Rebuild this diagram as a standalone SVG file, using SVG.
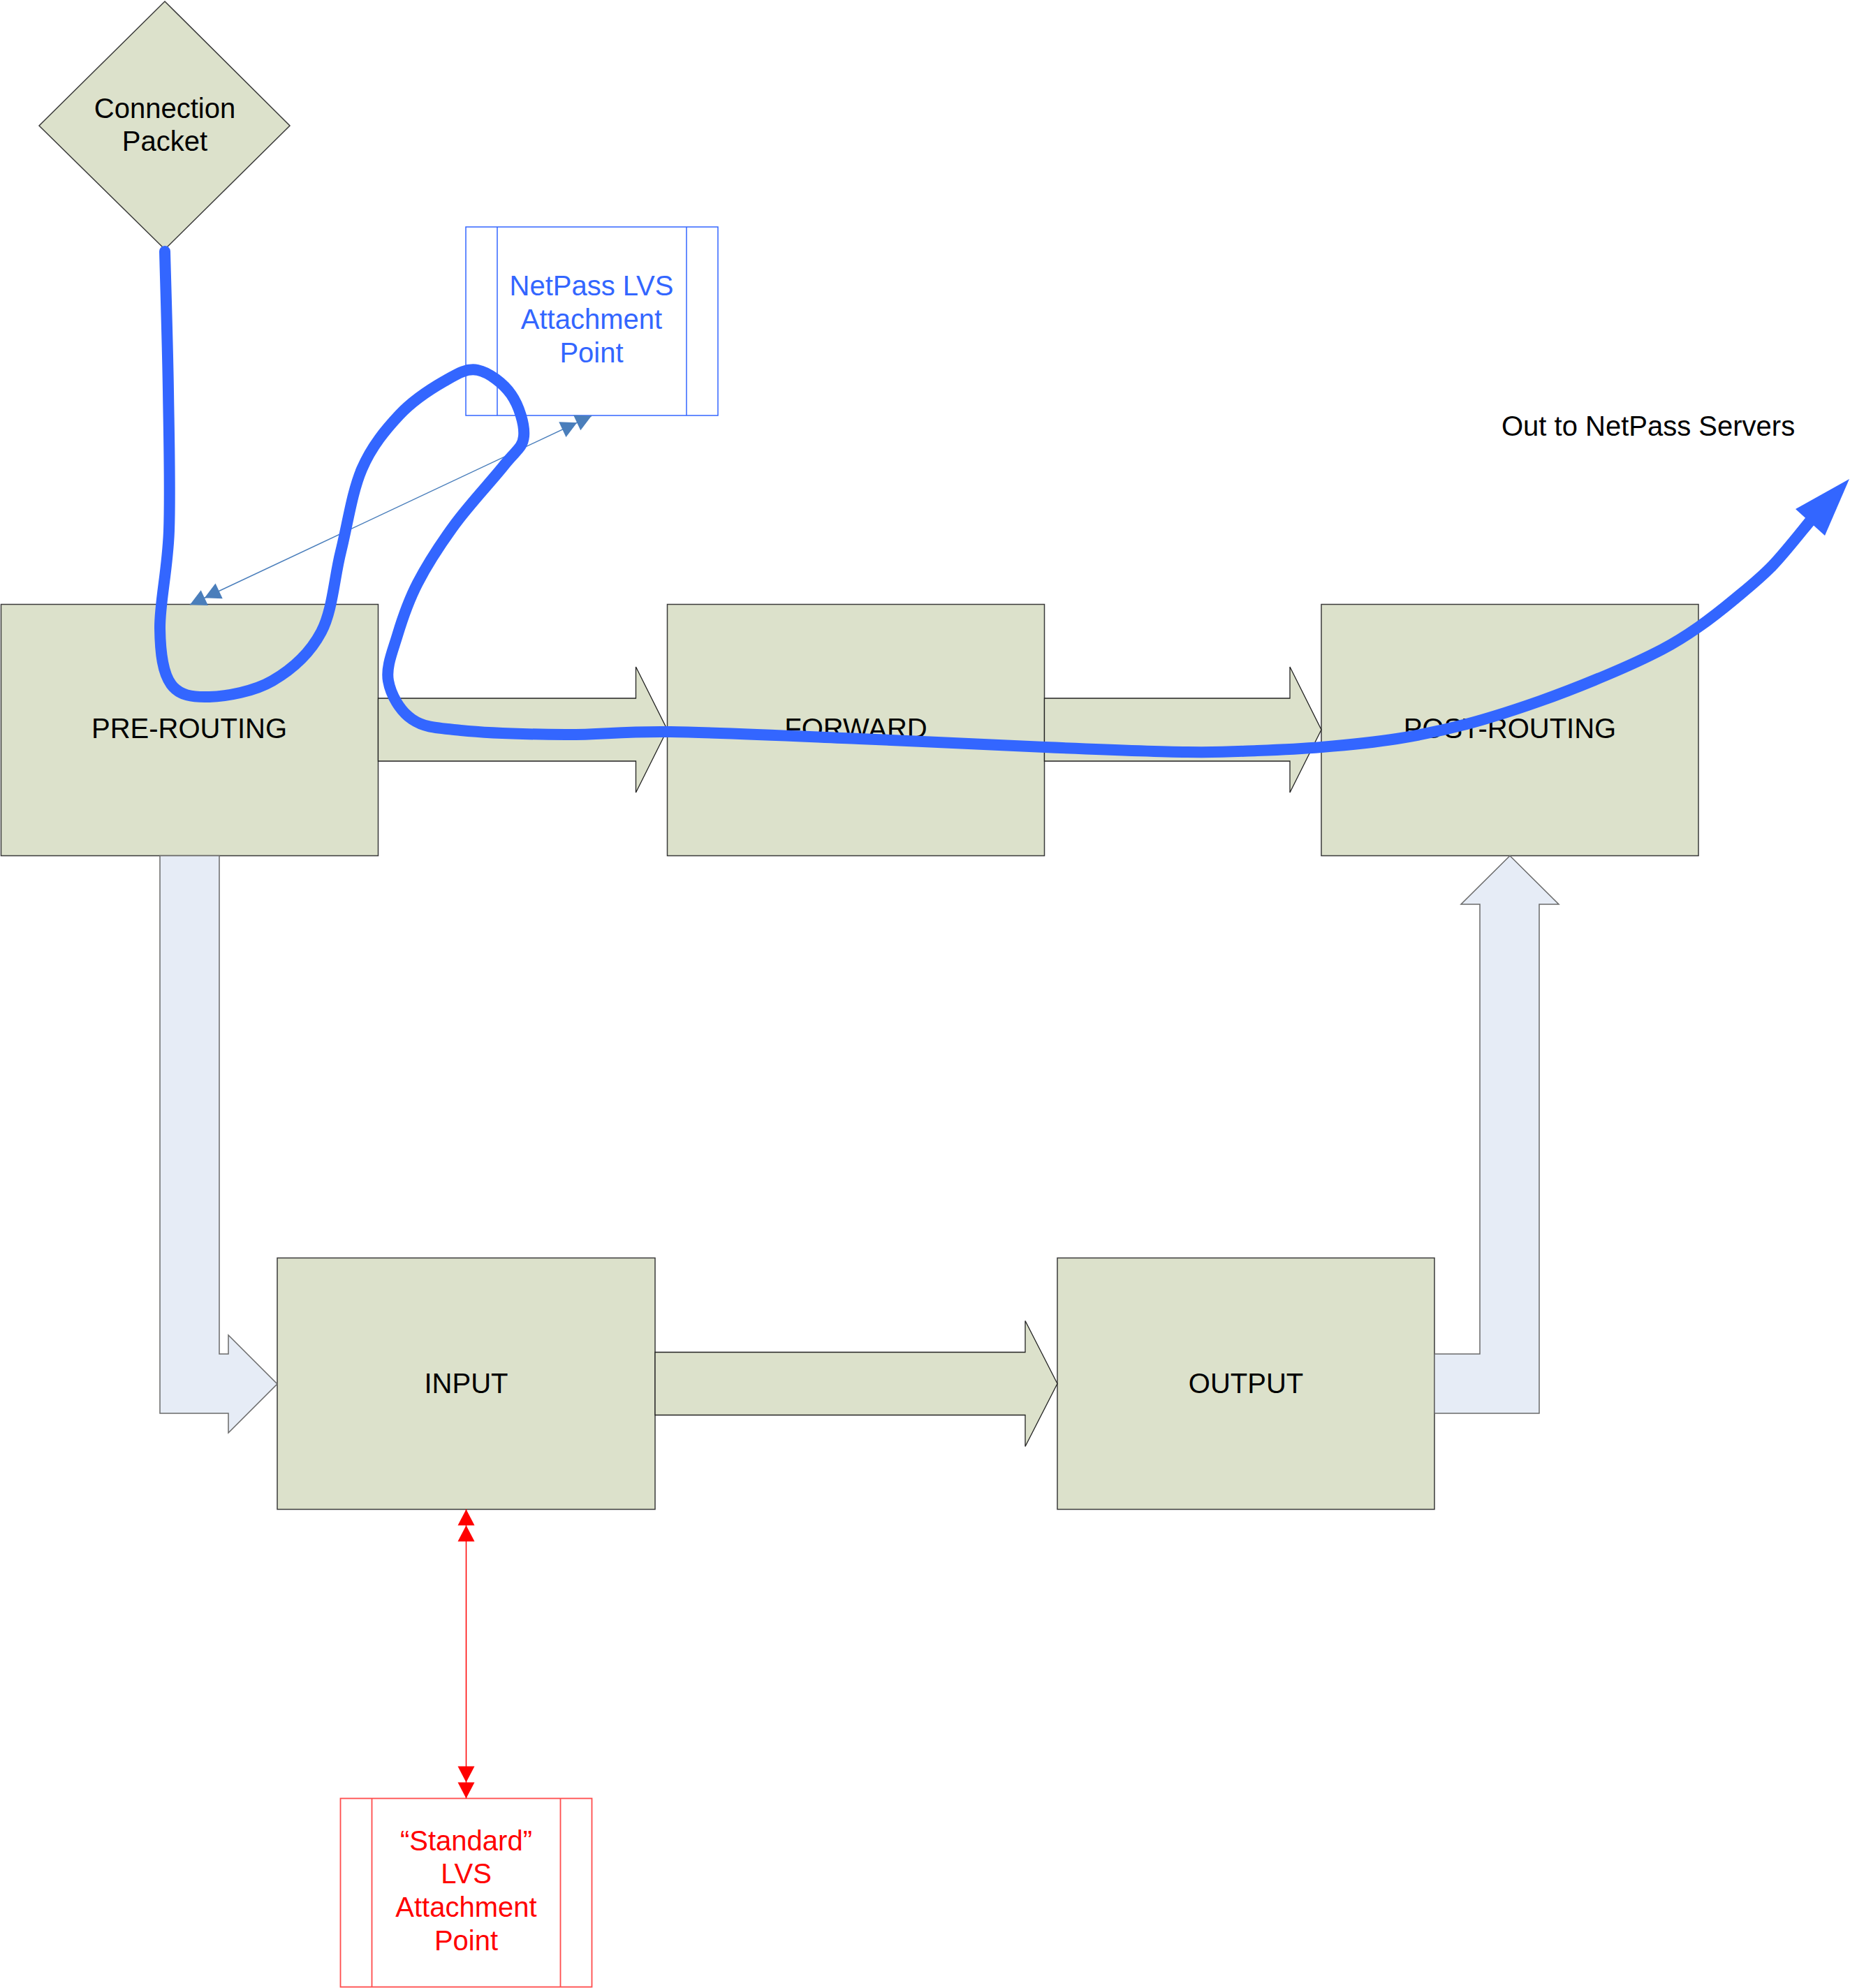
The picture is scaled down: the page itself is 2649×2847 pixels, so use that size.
<svg xmlns="http://www.w3.org/2000/svg" width="2649" height="2847" viewBox="0 0 2649 2847">
<style>
.box{fill:#dce1cb;stroke:#3a3a3a;stroke-width:1.5}
.garrow{fill:#dce1cb;stroke:#222;stroke-width:1.3}
.barrow{fill:#e6ecf6;stroke:#6a6a6a;stroke-width:1.5}
.lbl{font-family:"Liberation Sans",Arial,sans-serif;font-size:40px;text-anchor:middle;fill:#000}
.blue{fill:#3366ff}
.red{fill:#ff0000}
.bluebox{fill:#ffffff;stroke:#3366ff;stroke-width:1.5}
.redbox{fill:#ffffff;stroke:#ff4d4d;stroke-width:1.8}
</style>
<defs>
<marker id="dblBlue" markerUnits="userSpaceOnUse" viewBox="-48 -14 50 28" markerWidth="50" markerHeight="28" refX="0" refY="0" orient="auto-start-reverse">
<path d="M0,0 L-23,-12 L-23,12 Z M-23,0 L-46,-12 L-46,12 Z" fill="#4a7ebb"/>
</marker>
<marker id="dblRed" markerUnits="userSpaceOnUse" viewBox="-48 -14 50 28" markerWidth="50" markerHeight="28" refX="0" refY="0" orient="auto-start-reverse">
<path d="M0,0 L-23,-12 L-23,12 Z M-23,0 L-46,-12 L-46,12 Z" fill="#ff0000"/>
</marker>
</defs>
<rect x="0" y="0" width="2649" height="2847" fill="#ffffff"/>

<g id="nodes">
<g id="connection-packet">
<polygon class="box" points="236,2 415,180 236,357 56,180"/>
<text class="lbl" x="236" y="169">Connection</text>
<text class="lbl" x="236" y="216">Packet</text>
</g>
<g id="netpass-lvs">
<rect class="bluebox" x="667" y="325" width="361" height="270"/>
<line x1="712" y1="325" x2="712" y2="595" stroke="#3366ff" stroke-width="1.5"/>
<line x1="983" y1="325" x2="983" y2="595" stroke="#3366ff" stroke-width="1.5"/>
<text class="lbl blue" x="847" y="423">NetPass LVS</text>
<text class="lbl blue" x="847" y="471">Attachment</text>
<text class="lbl blue" x="847" y="519">Point</text>
</g>
<g id="pre-routing">
<rect class="box" x="1.5" y="865.5" width="540" height="360"/>
<text class="lbl" x="271" y="1057">PRE-ROUTING</text>
</g>
<g id="forward">
<rect class="box" x="955.5" y="865.5" width="540" height="360"/>
<text class="lbl" x="1225.5" y="1057">FORWARD</text>
</g>
<g id="post-routing">
<rect class="box" x="1892" y="865.5" width="540" height="360"/>
<text class="lbl" x="2162" y="1057">POST-ROUTING</text>
</g>
<g id="input">
<rect class="box" x="397" y="1801.5" width="541" height="360"/>
<text class="lbl" x="667.5" y="1995">INPUT</text>
</g>
<g id="output">
<rect class="box" x="1514" y="1801.5" width="540" height="360"/>
<text class="lbl" x="1784" y="1995">OUTPUT</text>
</g>
<g id="standard-lvs">
<rect class="redbox" x="487.5" y="2575.5" width="360" height="270"/>
<line x1="532.5" y1="2575.5" x2="532.5" y2="2845.5" stroke="#ff4d4d" stroke-width="1.8"/>
<line x1="802.5" y1="2575.5" x2="802.5" y2="2845.5" stroke="#ff4d4d" stroke-width="1.8"/>
<text class="lbl red" x="667.5" y="2650">“Standard”</text>
<text class="lbl red" x="667.5" y="2697">LVS</text>
<text class="lbl red" x="667.5" y="2745">Attachment</text>
<text class="lbl red" x="667.5" y="2793">Point</text>
</g>
<g id="out-label">
<text class="lbl" x="2150" y="624" style="text-anchor:start">Out to NetPass Servers</text>
</g>
</g>

<g id="connectors">
<polygon class="garrow" points="541.5,1000 910.5,1000 910.5,955 955.5,1045 910.5,1135 910.5,1090 541.5,1090"/>
<polygon class="garrow" points="1495.5,1000 1847,1000 1847,955 1892,1045 1847,1135 1847,1090 1495.5,1090"/>
<polygon class="garrow" points="938,1936.5 1468,1936.5 1468,1891.5 1514,1981.5 1468,2071.5 1468,2026.5 938,2026.5"/>
<polygon class="barrow" points="229,1225.5 314,1225.5 314,1939 327,1939 327,1912 397,1982 327,2052 327,2024 229,2024"/>
<polygon class="barrow" points="2054,1939 2119,1939 2119,1295 2092,1295 2162,1225.5 2232,1295 2204,1295 2204,2024 2054,2024"/>
<line x1="272" y1="866" x2="847" y2="595.5" stroke="#4a7ebb" stroke-width="1.5" marker-start="url(#dblBlue)" marker-end="url(#dblBlue)"/>
<line x1="667.5" y1="2161.5" x2="667.5" y2="2575.5" stroke="#ff0000" stroke-width="1.5" marker-start="url(#dblRed)" marker-end="url(#dblRed)"/>
<path d="M236,360 C236.8,393.3 240,493.3 241,560 C242,626.7 244,703.3 242,760 C240,816.7 228.5,863.3 229,900 C229.5,936.7 233.2,963.7 245,980 C256.8,996.3 275.8,998.8 300,998 C324.2,997.2 363.3,990.5 390,975 C416.7,959.5 443.7,935.8 460,905 C476.3,874.2 478.3,828.8 488,790 C497.7,751.2 504,704.7 518,672 C532,639.3 552.3,615 572,594 C591.7,573 617.3,556.7 636,546 C654.7,535.3 668,526.8 684,530 C700,533.2 721,549.2 732,565 C743,580.8 751.7,608.2 750,625 C748.3,641.8 738.3,645.2 722,666 C705.7,686.8 672.7,721.8 652,750 C631.3,778.2 611.8,808.3 598,835 C584.2,861.7 576,886.7 569,910 C562,933.3 552.5,955 556,975 C559.5,995 572.7,1018.2 590,1030 C607.3,1041.8 623.3,1042.3 660,1046 C696.7,1049.7 760,1051.7 810,1052 C860,1052.3 890,1047 960,1048 C1030,1049 1140.7,1054.3 1230,1058 C1319.3,1061.7 1417.7,1066.8 1496,1070 C1574.3,1073.2 1649.3,1076.2 1700,1077 C1750.7,1077.8 1768,1076.2 1800,1075 C1832,1073.8 1858.7,1072.8 1892,1070 C1925.3,1067.2 1965.3,1063.5 2000,1058 C2034.7,1052.5 2065.8,1046 2100,1037 C2134.2,1028 2171.7,1015.7 2205,1004 C2238.3,992.3 2270.8,979.3 2300,967 C2329.2,954.7 2358,941.5 2380,930 C2402,918.5 2414.5,910.2 2432,898 C2449.5,885.8 2467.3,871.7 2485,857 C2502.7,842.3 2520.2,828.5 2538,810 C2555.8,791.5 2583,756.7 2592,746" fill="none" stroke="#3366ff" stroke-width="16" stroke-linecap="round" stroke-linejoin="round"/>
<polygon points="2648,686 2571,729 2613,767" fill="#3366ff"/>
</g>
</svg>
